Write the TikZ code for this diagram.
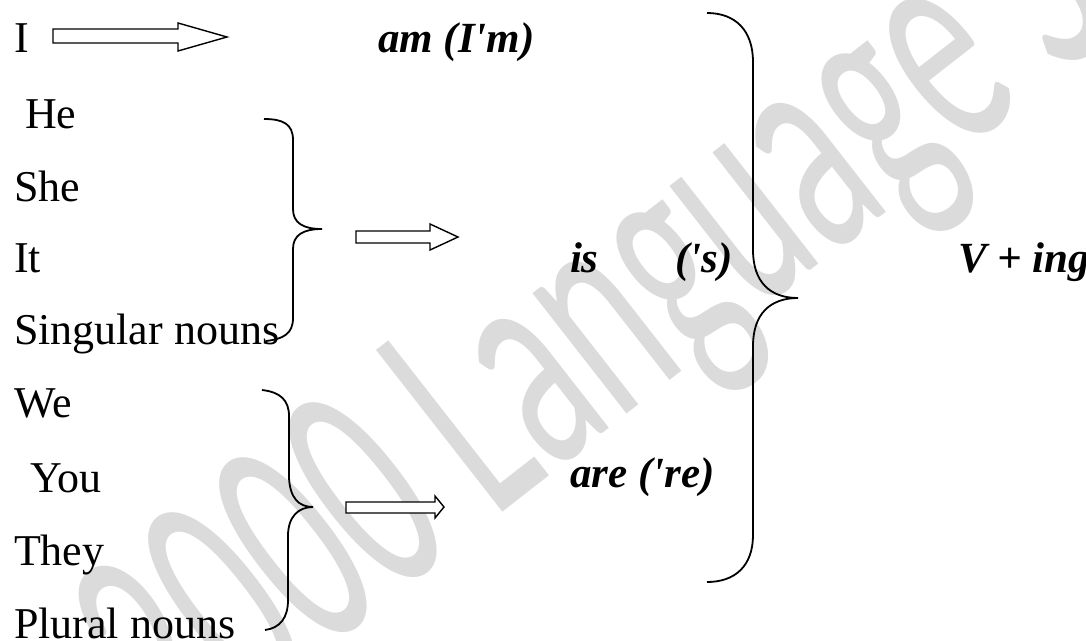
\documentclass[tikz,border=0pt]{standalone}
\usepackage{fontspec}
\setmainfont{Liberation Serif}
\newfontfamily\wmfont{Carlito}
\begin{document}
\begin{tikzpicture}[x=1pt,y=-1pt,
  word/.style={anchor=base west, inner sep=0pt, outer sep=0pt, font=\fontsize{44}{44}\selectfont},
  verb/.style={word, font=\fontsize{43}{43}\selectfont\bfseries\itshape},
  blockarrow/.style={draw=black, line width=1.4pt, fill=white, line join=miter},
  brace/.style={draw=black, line width=1.8pt},
  watermark/.style={rotate=38, text=black!14, inner sep=0pt, font=\wmfont\fontsize{320}{320}\selectfont}]
\useasboundingbox (0,0) rectangle (1086,640);
\begin{scope}
\clip (0,0) rectangle (1086,640);
\node[watermark] (wm) at (605,335) {\scalebox{0.55}[1]{2000 Language S}};
\end{scope}
% subjects
\node[word] (I) at (14,52) {I};
\node[word] (He) at (25,128) {He};
\node[word] (She) at (14,201) {She};
\node[word] (It) at (14,272) {It};
\node[word] (Sg) at (14,344) {Singular nouns};
\node[word] (We) at (14,417) {We};
\node[word] (You) at (30,492) {You};
\node[word] (They) at (14,565) {They};
\node[word] (Pl) at (14,638) {Plural nouns};
% verbs
\node[verb] (am) at (378,52) {am (I\textquotesingle m)};
\node[verb] (is) at (570,272) {is};
\node[verb] (isc) at (675,272) {(\textquotesingle s)};
\node[verb] (are) at (570,487) {are (\textquotesingle re)};
\node[verb] (ving) at (958,272) {V + ing};
% block arrows
\draw[blockarrow] (53,29) -- (178,29) -- (178,23) -- (227,37) -- (178,51) -- (178,43) -- (53,43) -- cycle;
\draw[blockarrow] (356,231) -- (430,231) -- (430,224) -- (458,237) -- (430,250) -- (430,243) -- (356,243) -- cycle;
\draw[blockarrow] (346,502) -- (435,502) -- (435,496) -- (444,507) -- (435,518) -- (435,513) -- (346,513) -- cycle;
% braces
\draw[brace] (264,119) .. controls (283,119) and (293,124) .. (293,140) -- (293,209)
  .. controls (293,223) and (303,229) .. (322,229)
  .. controls (303,229) and (293,235) .. (293,249) -- (293,318)
  .. controls (293,334) and (283,339) .. (266,341);
\draw[brace] (262,390) .. controls (280,392) and (289,400) .. (289,416) -- (289,478)
  .. controls (290,497) and (298,507) .. (313,507)
  .. controls (298,507) and (288,517) .. (288,536) -- (288,600)
  .. controls (288,618) and (280,628) .. (265,630);
\draw[brace] (707,13) .. controls (735,13) and (753,30) .. (753,62) -- (753,250)
  .. controls (753,282) and (770,298) .. (798,298)
  .. controls (770,298) and (753,314) .. (753,346) -- (753,535)
  .. controls (753,566) and (735,582) .. (707,582);
\end{tikzpicture}
\end{document}
